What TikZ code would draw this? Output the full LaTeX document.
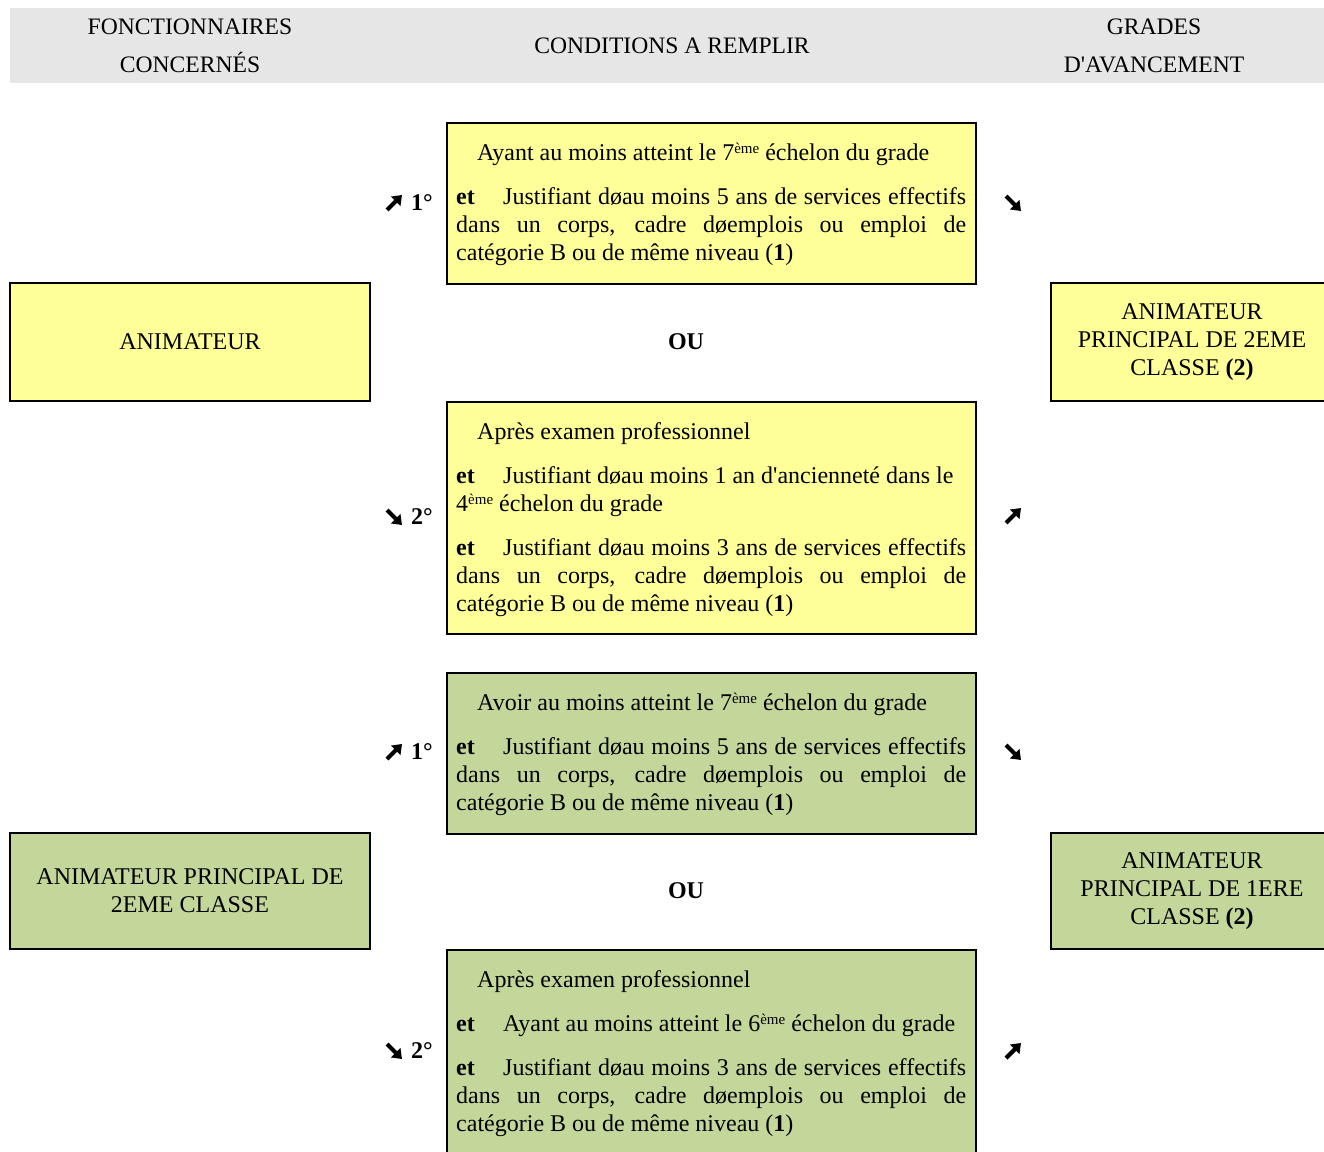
\documentclass[tikz,border=0pt]{standalone}
\usepackage{fontspec}
\setmainfont{Liberation Serif}
\usetikzlibrary{arrows.meta}
\definecolor{boxyellow}{HTML}{FFFF99}
\definecolor{boxgreen}{HTML}{C4D79B}
\definecolor{headgray}{HTML}{E6E6E6}
\newcommand\condfont{\fontsize{24}{28}\selectfont}
\newcommand\condsetup{\setlength\parindent{0pt}\setlength\parskip{0pt}}
\newcommand\etlead{\makebox[47pt][l]{\textbf{et}}}
\newcommand\firststrut{\rule{0pt}{22pt}}
\newcommand\cparbreak{\par\vspace{16pt}}
\newcommand\sups[1]{\raisebox{7pt}{\fontsize{15}{15}\selectfont #1}}
\tikzset{
  cbox/.style={draw=black, line width=1.6pt, anchor=north west, inner sep=0pt, minimum width=529pt},
  sidebox/.style={draw=black, line width=1.6pt, inner sep=0pt, align=center, font=\condfont},
  condtext/.style={anchor=north west, inner sep=0pt, text width=510pt, align=justify, font=\condfont},
  headtext/.style={align=center, inner sep=0pt, font=\fontsize{23.6}{38}\selectfont},
  labeltext/.style={inner sep=0pt, font=\condfont\bfseries},
  heavyarrow/.style={line width=4.2pt, -{Triangle[length=9pt,width=13pt]}},
}
\begin{document}
\begin{tikzpicture}[x=1pt,y=-1pt]
\useasboundingbox (0,0) rectangle (1324,1151);
% header band
\fill[headgray] (10,8) rectangle (1324,83);
\node[headtext] (h1) at (190,46) {FONCTIONNAIRES\\CONCERNÉS};
\node[headtext] (h2) at (672,46) {CONDITIONS A REMPLIR};
\node[headtext] (h3) at (1154,46) {GRADES\\D\textquotesingle AVANCEMENT};

% ---- first block (yellow)
\node[cbox, fill=boxyellow, minimum height=161pt] (c1) at (446,122) {};
\node[cbox, fill=boxyellow, minimum height=232pt] (c2) at (446,401) {};
\node[sidebox, fill=boxyellow, minimum width=360pt, minimum height=118pt] (a1) at (190,342) {ANIMATEUR};
\node[sidebox, fill=boxyellow, minimum width=282pt, minimum height=118pt] (g1) at (1192,342)
  {ANIMATEUR\\PRINCIPAL DE 2EME\\CLASSE \textbf{(2)}};
\node[labeltext] (ou1) at (686,342) {OU};

\node[condtext] (t1) at (456,138) {\condsetup\firststrut\hspace*{21pt}Ayant au moins atteint le 7\sups{ème} échelon du grade\cparbreak
\etlead Justifiant døau moins 5 ans de services effectifs\linebreak dans un corps, cadre døemplois ou emploi de\linebreak catégorie B ou de même niveau (\textbf{1})};

\node[condtext] (t2) at (456,417) {\condsetup\firststrut\hspace*{21pt}Après examen professionnel\cparbreak
\etlead Justifiant døau moins 1 an d\textquotesingle ancienneté dans le\newline 4\sups{ème} échelon du grade\cparbreak
\etlead Justifiant døau moins 3 ans de services effectifs\linebreak dans un corps, cadre døemplois ou emploi de\linebreak catégorie B ou de même niveau (\textbf{1})};

\node[labeltext, anchor=base east] (l1) at (433,210) {1°};
\node[labeltext, anchor=base east] (l2) at (433,524) {2°};
\draw[heavyarrow] (387,210) -- (402,195);
\draw[heavyarrow] (387,510) -- (402,525);
\draw[heavyarrow] (1006,196) -- (1021,211);
\draw[heavyarrow] (1006,523) -- (1021,508);

% ---- second block (green)
\node[cbox, fill=boxgreen, minimum height=161pt] (c3) at (446,672) {};
\node[cbox, fill=boxgreen, minimum height=240pt] (c4) at (446,949) {};
\node[sidebox, fill=boxgreen, minimum width=360pt, minimum height=116pt] (a2) at (190,891)
  {ANIMATEUR PRINCIPAL DE\\2EME CLASSE};
\node[sidebox, fill=boxgreen, minimum width=282pt, minimum height=116pt] (g2) at (1192,891)
  {ANIMATEUR\\PRINCIPAL DE 1ERE\\CLASSE \textbf{(2)}};
\node[labeltext] (ou2) at (686,891) {OU};

\node[condtext] (t3) at (456,688) {\condsetup\firststrut\hspace*{21pt}Avoir au moins atteint le 7\sups{ème} échelon du grade\cparbreak
\etlead Justifiant døau moins 5 ans de services effectifs\linebreak dans un corps, cadre døemplois ou emploi de\linebreak catégorie B ou de même niveau (\textbf{1})};

\node[condtext] (t4) at (456,965) {\condsetup\firststrut\hspace*{21pt}Après examen professionnel\cparbreak
\etlead Ayant au moins atteint le 6\sups{ème} échelon du grade\cparbreak
\etlead Justifiant døau moins 3 ans de services effectifs\linebreak dans un corps, cadre døemplois ou emploi de\linebreak catégorie B ou de même niveau (\textbf{1})};

\node[labeltext, anchor=base east] (l3) at (433,759) {1°};
\node[labeltext, anchor=base east] (l4) at (433,1058) {2°};
\draw[heavyarrow] (387,759) -- (402,744);
\draw[heavyarrow] (387,1044) -- (402,1059);
\draw[heavyarrow] (1006,745) -- (1021,760);
\draw[heavyarrow] (1006,1058) -- (1021,1043);
\end{tikzpicture}
\end{document}
